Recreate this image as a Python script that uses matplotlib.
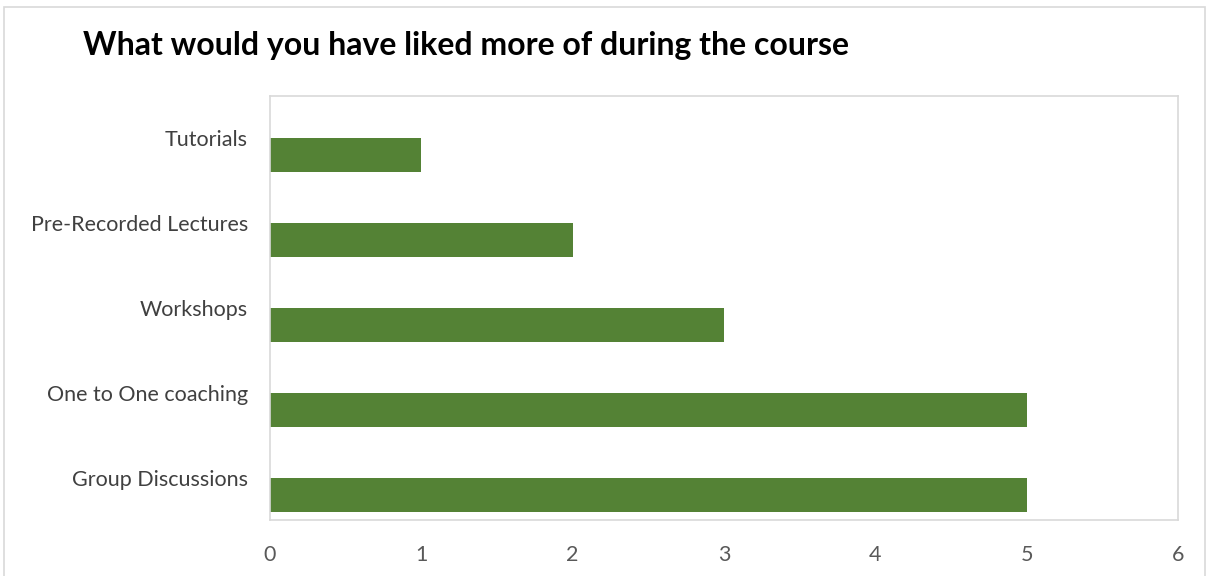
import matplotlib.pyplot as plt
from matplotlib.patches import Rectangle

categories = ["Group Discussions", "One to One coaching", "Workshops",
	"Pre-Recorded Lectures", "Tutorials"]
values = [5, 5, 3, 2, 1]
xticks = [0, 1, 2, 3, 4, 5, 6]

plt.rcParams['font.family'] = ['Lato', 'DejaVu Sans']

fig = plt.figure(figsize=(12.08, 5.76), dpi=100)
# outer chart frame
fig.patches.append(Rectangle((4/1208, -0.01), 1201/1208, 1 - 7/576 + 0.01,
	transform=fig.transFigure, fill=False, edgecolor='#d9d9d9', linewidth=1.2))

ax = fig.add_axes([270/1208, 1 - 520/576, 908/1208, 424/576])
pos = list(range(len(categories)))
# bars sit in the lower half of each category band (Excel clustered look)
ax.barh([p - 0.2 for p in pos], values, height=0.4, color='#548235')
ax.set_xlim(0, 6)
ax.set_ylim(-0.5, len(categories) - 0.5)
ax.set_xticks(xticks)
ax.set_yticks(pos)
ax.set_yticklabels(categories)
ax.tick_params(axis='x', length=0, pad=18, labelsize=15.5, labelcolor='#595959')
ax.tick_params(axis='y', length=0, pad=16, labelsize=15.5, labelcolor='#404040')
for s in ax.spines.values():
	s.set_color('#d9d9d9')
	s.set_linewidth(1.2)

fig.text(83/1208, 1 - 46/576, "What would you have liked more of during the course",
	fontsize=23, fontweight='bold', va='center', ha='left', color='black')

plt.savefig('out.png', dpi=100)
